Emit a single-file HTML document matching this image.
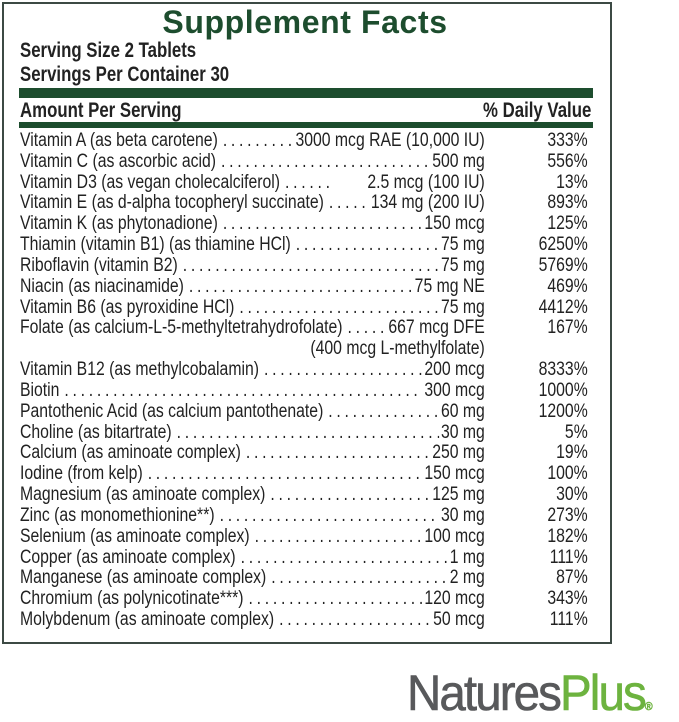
<!DOCTYPE html>
<html><head><meta charset="utf-8"><style>
body{margin:0;width:679px;height:713px;background:#fff;position:relative;overflow:hidden;font-family:"Liberation Sans",sans-serif;color:#222}
.box{position:absolute;left:2px;top:2px;width:606px;height:638px;border:2px solid #3c4a44}
.title{position:absolute;left:0;width:610px;top:4px;text-align:center;font-weight:bold;font-size:32px;color:#1d4d2e;letter-spacing:0.6px}
.sc{position:absolute;left:20px;transform-origin:0 0;transform:scaleX(0.8);white-space:nowrap}
.hd{font-weight:bold;font-size:21px;color:#222}
.bar{position:absolute;left:19px;width:574px;background:#1d4d2e}
.rows{position:absolute;left:20px;top:131px;width:684px;transform-origin:0 0;transform:scaleX(0.83)}
.r{height:20.83px;line-height:20.83px;font-size:19px;display:flex;white-space:nowrap}
.l{width:560px;display:flex;overflow:hidden}
.n{flex:none}
.d{flex:1;overflow:hidden;letter-spacing:4.5px;padding-left:6px}
.d::before{content:"........................................................................................................................"}
.a{flex:none;padding-left:2px}
.p{width:124px;text-align:right}
.logo{position:absolute;left:407px;top:664px;font-family:"Liberation Sans",sans-serif;font-size:50px;letter-spacing:-2px;transform-origin:0 0;transform:scaleX(0.95);white-space:nowrap;-webkit-text-stroke:0.6px}
</style></head><body>
<div class="box"></div>
<div class="title">Supplement Facts</div>
<div class="sc hd" style="top:39px">Serving Size 2 Tablets</div>
<div class="sc hd" style="top:63px">Servings Per Container 30</div>
<div class="bar" style="top:88px;height:10px"></div>
<div class="sc hd" style="top:99px">Amount Per Serving</div>
<div class="sc hd" style="top:99px;left:483px">% Daily Value</div>
<div class="bar" style="top:122px;height:6px"></div>
<div class="rows">
<div class="r"><div class="l"><span class="n">Vitamin A (as beta carotene)</span><span class="d"></span><span class="a">3000 mcg RAE (10,000 IU)</span></div><div class="p">333%</div></div>
<div class="r"><div class="l"><span class="n">Vitamin C (as ascorbic acid)</span><span class="d"></span><span class="a">500 mg</span></div><div class="p">556%</div></div>
<div class="r"><div class="l"><span class="n">Vitamin D3 (as vegan cholecalciferol)</span><span class="d" style="flex:none;width:60px"></span><span style="flex:1"></span><span class="a">2.5 mcg (100 IU)</span></div><div class="p">13%</div></div>
<div class="r"><div class="l"><span class="n">Vitamin E (as d-alpha tocopheryl succinate)</span><span class="d"></span><span class="a">134 mg (200 IU)</span></div><div class="p">893%</div></div>
<div class="r"><div class="l"><span class="n">Vitamin K (as phytonadione)</span><span class="d"></span><span class="a">150 mcg</span></div><div class="p">125%</div></div>
<div class="r"><div class="l"><span class="n">Thiamin (vitamin B1) (as thiamine HCl)</span><span class="d"></span><span class="a">75 mg</span></div><div class="p">6250%</div></div>
<div class="r"><div class="l"><span class="n">Riboflavin (vitamin B2)</span><span class="d"></span><span class="a">75 mg</span></div><div class="p">5769%</div></div>
<div class="r"><div class="l"><span class="n">Niacin (as niacinamide)</span><span class="d"></span><span class="a">75 mg NE</span></div><div class="p">469%</div></div>
<div class="r"><div class="l"><span class="n">Vitamin B6 (as pyroxidine HCl)</span><span class="d"></span><span class="a">75 mg</span></div><div class="p">4412%</div></div>
<div class="r"><div class="l"><span class="n">Folate (as calcium-L-5-methyltetrahydrofolate)</span><span class="d"></span><span class="a">667 mcg DFE</span></div><div class="p">167%</div></div>
<div class="r"><div class="l" style="justify-content:flex-end"><span class="a">(400 mcg L-methylfolate)</span></div><div class="p"></div></div>
<div class="r"><div class="l"><span class="n">Vitamin B12 (as methylcobalamin)</span><span class="d"></span><span class="a">200 mcg</span></div><div class="p">8333%</div></div>
<div class="r"><div class="l"><span class="n">Biotin</span><span class="d"></span><span class="a">300 mcg</span></div><div class="p">1000%</div></div>
<div class="r"><div class="l"><span class="n">Pantothenic Acid (as calcium pantothenate)</span><span class="d"></span><span class="a">60 mg</span></div><div class="p">1200%</div></div>
<div class="r"><div class="l"><span class="n">Choline (as bitartrate)</span><span class="d"></span><span class="a">30 mg</span></div><div class="p">5%</div></div>
<div class="r"><div class="l"><span class="n">Calcium (as aminoate complex)</span><span class="d"></span><span class="a">250 mg</span></div><div class="p">19%</div></div>
<div class="r"><div class="l"><span class="n">Iodine (from kelp)</span><span class="d"></span><span class="a">150 mcg</span></div><div class="p">100%</div></div>
<div class="r"><div class="l"><span class="n">Magnesium (as aminoate complex)</span><span class="d"></span><span class="a">125 mg</span></div><div class="p">30%</div></div>
<div class="r"><div class="l"><span class="n">Zinc (as monomethionine**)</span><span class="d"></span><span class="a">30 mg</span></div><div class="p">273%</div></div>
<div class="r"><div class="l"><span class="n">Selenium (as aminoate complex)</span><span class="d"></span><span class="a">100 mcg</span></div><div class="p">182%</div></div>
<div class="r"><div class="l"><span class="n">Copper (as aminoate complex)</span><span class="d"></span><span class="a">1 mg</span></div><div class="p">111%</div></div>
<div class="r"><div class="l"><span class="n">Manganese (as aminoate complex)</span><span class="d"></span><span class="a">2 mg</span></div><div class="p">87%</div></div>
<div class="r"><div class="l"><span class="n">Chromium (as polynicotinate***)</span><span class="d"></span><span class="a">120 mcg</span></div><div class="p">343%</div></div>
<div class="r"><div class="l"><span class="n">Molybdenum (as aminoate complex)</span><span class="d"></span><span class="a">50 mcg</span></div><div class="p">111%</div></div>
</div>
<div class="logo"><span style="color:#58595b">Natures</span><span style="color:#6db33f">Plus</span><span style="color:#6db33f;font-size:11px;letter-spacing:0">®</span></div>
</body></html>
